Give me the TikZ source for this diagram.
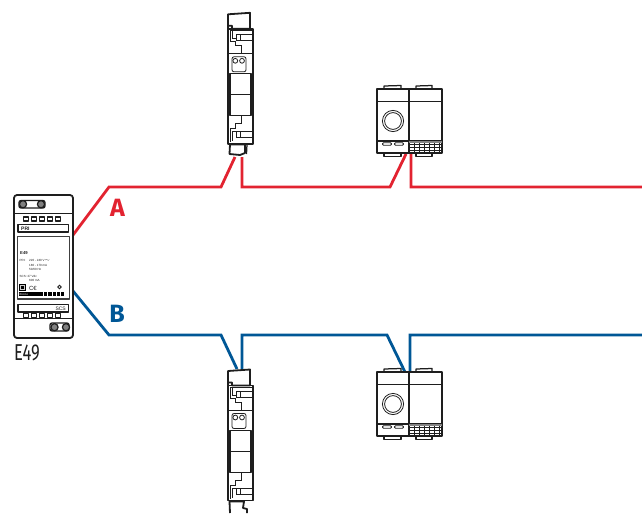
\documentclass[tikz,border=0pt]{standalone}
\usepackage{fontspec}
\setmainfont{Liberation Sans}
\newfontfamily\labfont{Fira Sans}
\definecolor{wirered}{RGB}{226,35,48}
\definecolor{wireblue}{RGB}{0,87,150}
\definecolor{ink}{RGB}{30,30,30}
\tikzset{
  wirea/.style={draw=wirered,line width=2.8pt,line join=miter},
  wireb/.style={draw=wireblue,line width=2.8pt,line join=miter},
  dev/.style={draw=ink,line width=1.25pt,line join=round},
  thick dev/.style={draw=ink,line width=1.8pt,line join=round},
  thin dev/.style={draw=ink,line width=.8pt},
  tiny/.style={inner sep=0pt,anchor=west,text=ink,font=\fontsize{3}{3.6}\selectfont},
  railbody/.pic={
    % origin = top-left of rail body, y grows downward
    \draw[thick dev,fill=white] (0,0) rectangle (25,115);
    \draw[dev] (0,25) -- (25,25);
    \draw[dev] (2,45) rectangle (23,87);
    \draw[dev] (2,66) -- (23,66);
    \draw[thin dev,rounded corners=2pt] (4,28) rectangle (18,43);
    \draw[thin dev] (7.3,32) circle (2.4);
    \draw[thin dev] (14,32) circle (2.4);
    % upper terminal
    \draw[thin dev] (2,2) -- (2,13) -- (7,13) -- (7,17) -- (13,17) -- (13,25);
    \draw[thin dev] (4,2) -- (4,10) -- (8,10);
    \draw[thin dev] (8.5,6) rectangle (12.5,12);
    \draw[thin dev] (12.5,6) -- (24,6) (12.5,12) -- (24,12);
    \draw[thin dev] (2,2) -- (24,2);
    % lower terminal
    \draw[thin dev] (2,113) -- (2,100) -- (7,100) -- (7,95) -- (13,95) -- (13,87);
    \draw[thin dev] (4,112) -- (4,103) -- (8,103);
    \draw[thin dev] (8.5,102.5) rectangle (12.5,108.5);
    \draw[thin dev] (12.5,102.5) -- (24,102.5) (12.5,108.5) -- (24,108.5);
    % upper clip
    \draw[thick dev,fill=white] (0,0) -- (0,-14.5) -- (22,-16) -- (22,0) -- (4,0) -- (4,-3) -- (0,-3);
  },
  wallplate/.pic={
    % origin = top-left of the plate
    \draw[dev,fill=white] (7,0) -- (7,-3) -- (24,-3.5) -- (24,0);
    \draw[dev,fill=white] (39,0) -- (39,-3) -- (55,-3.5) -- (55,0);
    \draw[dev,fill=white] (7,64) -- (7,67.5) -- (24,67.5) -- (24,64);
    \draw[dev,fill=white] (39,64) -- (39,67.5) -- (55,67.5) -- (55,64);
    \draw[thick dev,fill=white] (0,0) rectangle (65,64);
    \draw[thick dev] (32,0) -- (32,64);
    \draw[dev] (0,12.5) -- (65,12.5);
    \draw[dev] (0,52) -- (65,52);
    \draw[thin dev] (16,32) circle (10.6);
    \draw[thin dev] (16,32) circle (8.4);
    \draw[thin dev,rounded corners=1pt] (5.5,53.8) rectangle (14.5,56.3);
    \draw[thin dev,rounded corners=1pt] (17.5,53.8) rectangle (26.5,56.3);
    \foreach \gx in {37,42,47,52,57,62} \draw[thin dev] (\gx,52) -- (\gx,64);
    \foreach \gy in {55,58,61} \draw[thin dev] (32,\gy) -- (65,\gy);
    \fill[ink!55] (32,52) rectangle (65,53.5);
  }
}
\begin{document}
\begin{tikzpicture}[x=1pt,y=-1pt]
\useasboundingbox (0,0) rectangle (642,514);
\clip (0,0) rectangle (642,514);

% --- wire anchors
\coordinate (psuA) at (73,235);
\coordinate (psuB) at (73,291);
\coordinate (a1) at (109,187);
\coordinate (a2) at (221,187);
\coordinate (railAin) at (235,157);
\coordinate (railAout) at (242,157);
\coordinate (a3) at (242,187);
\coordinate (a4) at (390,187);
\coordinate (plateAin) at (406,154);
\coordinate (plateAin2) at (406.6,152.8);
\coordinate (plateAout) at (411,154);
\coordinate (a5) at (411,187);
\coordinate (endA) at (646,187);
\coordinate (b1) at (109,335);
\coordinate (b2) at (221,335);
\coordinate (railBin) at (237,369);
\coordinate (railBout) at (242,369);
\coordinate (b3) at (242,335);
\coordinate (b4) at (387,335);
\coordinate (plateBin) at (405,372);
\coordinate (plateBout) at (410,372);
\coordinate (b5) at (410,335);
\coordinate (endB) at (646,335);
\coordinate (endA2) at (648,190);
\coordinate (endB2) at (648,338);

% --- wires (the last leg runs on off the page, so it is stroked like the other legs)
\draw[wirea] (psuA) -- (a1) -- (a2) -- (railAin);
\draw[wirea] (railAout) -- (a3) -- (a4) -- (plateAin);
\draw[wirea] (plateAout) -- (a5) -- (endA) -- (endA2);
\draw[wireb] (psuB) -- (b1) -- (b2) -- (railBin);
\draw[wireb] (railBout) -- (b3) -- (b4) -- (plateBin);
\draw[wireb] (plateBout) -- (b5) -- (endB) -- (endB2);

% --- rail devices
\pic (railTop) at (228,28.8) {railbody};
\draw[thick dev,fill=white] (230,144.5) -- (229.5,154) -- (240,155) -- (245,153) -- (245,144.5) -- cycle;
\draw[dev] (247,144.5) -- (246.5,154);
\pic (railBot) at (228,385.5) {railbody};
\draw[thick dev] (230,513) -- (229.5,501.5) -- (244,501.5) -- (243,508) -- (247,509) -- (247,513);

% --- wall plates
\pic (plateTop) at (377,89) {wallplate};
\pic (plateBot) at (377,372) {wallplate};

% --- power supply E49
\draw[thick dev,fill=white,rounded corners=3pt] (14,195) rectangle (73,338);
\draw[dev] (14,213.5) -- (73,213.5);
\draw[dev] (14,318.5) -- (73,318.5);
\draw[dev,rounded corners=2pt] (19,200.5) rectangle (45,208);
\draw[dev,fill=black!50] (23,204.2) circle (3.6);
\draw[dev,fill=black!50] (41,204.2) circle (3.6);
\draw[dev,rounded corners=2pt] (50,323) rectangle (69,331);
\draw[dev,fill=black!50] (54.5,327.2) circle (3.6);
\draw[dev,fill=black!50] (66,327.2) circle (3.6);
\foreach \sx in {23.5,31.5,39.5,47.5,55.5} {
  \draw[dev] (\sx,217) rectangle ++(5,4);
  \draw[dev] (\sx,313.5) rectangle ++(5,4);
}
\draw[dev] (18,224.5) rectangle (68.5,232);
\draw[dev] (18,304.5) rectangle (68.5,312);
\draw[thick dev,draw=ink!85] (17.5,236.5) rectangle (69.5,299);
\node[tiny,font=\fontsize{5}{5}\selectfont\bfseries] (pri) at (21,228.3) {PRI};
\node[tiny,anchor=east,font=\fontsize{5}{5}\selectfont] (scs) at (66,308.3) {SCS};
\node[tiny,font=\fontsize{4.2}{4.2}\selectfont\bfseries] (name) at (20,253) {E49};
\node[tiny] (pria) at (19.5,260) {PRI:};
\node[tiny] (prib) at (29,260) {220 - 240 V$\sim$};
\node[tiny] (pric) at (29,265) {180 - 170 mA};
\node[tiny] (prid) at (29,269.5) {50/60 Hz};
\node[tiny] (scsa) at (19.5,276) {SCS: 27 Vdc};
\node[tiny] (scsb) at (29,280.5) {600 mA};
\draw[draw=black,line width=.7pt,fill=black!20] (19.5,284.5) rectangle (25,290);
\fill[black] (21,286) rectangle (23.5,288.5);
\node[tiny,font=\fontsize{6}{6}\selectfont] (ce) at (29,288) {C\kern-.2pt€};
\draw[ink,line width=.8pt] (59.5,287) circle (1.8);
\fill[black] (18.5,292) rectangle (43,296);
\node[tiny,text=white,font=\fontsize{2.8}{3}\selectfont] (brand) at (19.5,294) {Bticino};
\foreach \sx in {44,48.3,52.6,56.9,61.2} \fill[black] (\sx,292) rectangle ++(3.2,4);

% --- labels
\node[inner sep=0pt,text=wirered,font=\labfont\bfseries\fontsize{25}{25}\selectfont] (labA) at (117.5,208) {A};
\node[inner sep=0pt,text=wireblue,font=\labfont\bfseries\fontsize{25}{25}\selectfont] (labB) at (117,314) {B};
\node[inner sep=0pt,text=ink] (labE) at (27,353) {\labfont\fontsize{23}{23}\selectfont\scalebox{.72}[1]{E49}};
\end{tikzpicture}
\end{document}
